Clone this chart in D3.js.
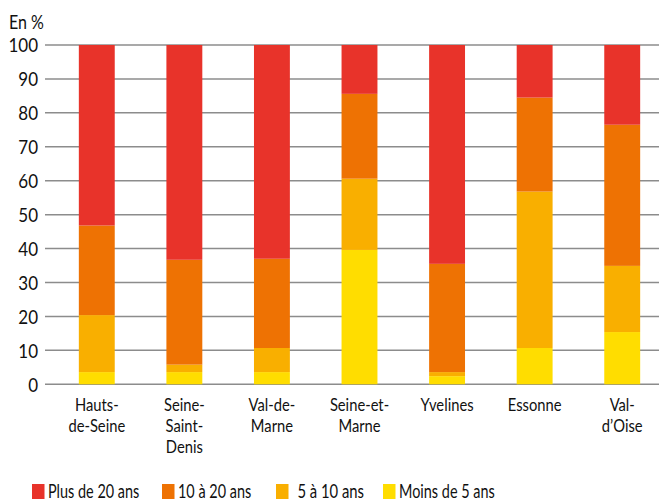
<!DOCTYPE html>
<head>
<meta charset="utf-8">
<style>
  body { margin:0; background:#fff; }
  text { font-family:Lato,"Noto Sans",sans-serif; fill:#111; }
  .grid line { stroke:#8c8c8c; stroke-width:1.5; }
</style>
</head>

<script src="https://d3js.org/d3.v7.min.js"></script>

<div id="my_dataviz"></div>

<script>
// departments (label lines) and shares per age class, in %
var departements = ["Hauts-de-Seine","Seine-Saint-Denis","Val-de-Marne","Seine-et-Marne","Yvelines","Essonne","Val-d'Oise"];
var labelLines = [["Hauts-","de-Seine"],["Seine-","Saint-","Denis"],["Val-de-","Marne"],["Seine-et-","Marne"],["Yvelines"],["Essonne"],["Val-","d\u2019Oise"]];
var moins5   = [3.6, 3.6, 3.6, 39.6, 2.4, 10.7, 15.4];
var de5a10   = [16.8, 2.2, 7.1, 21.0, 1.2, 46.1, 19.5];
var de10a20  = [26.4, 30.9, 26.3, 25.0, 31.9, 27.7, 41.6];
var plus20   = [53.2, 63.3, 63.0, 14.4, 64.5, 15.5, 23.5];
var yTicks = [0,10,20,30,40,50,60,70,80,90,100];

var keys = ["moins5","de5a10","de10a20","plus20"];
var legendLabels = {"plus20":"Plus de 20 ans","de10a20":"10 \u00e0 20 ans","de5a10":"5 \u00e0 10 ans","moins5":"Moins de 5 ans"};
var colors = {"plus20":"#e8332a","de10a20":"#ee7203","de5a10":"#f9af00","moins5":"#ffdd00"};

var W = 659, H = 502;
var svg = d3.select("#my_dataviz").append("svg")
  .attr("width", W).attr("height", H);

// the original font is a condensed one, squeeze Lato horizontally
function place(x, y, k) { return "translate(" + x + "," + y + ") scale(" + (k || 0.78) + ",1)"; }

var rows = departements.map(function(d,i){
  return {dep:d, moins5:moins5[i], de5a10:de5a10[i], de10a20:de10a20[i], plus20:plus20[i]};
});

var x = d3.scaleBand().domain(departements).range([53, 666]).paddingInner(0.59).paddingOuter(0.295);
var y = d3.scaleLinear().domain([0,100]).range([384.3, 45]);

// gridlines
svg.append("g").attr("class","grid")
  .selectAll("line").data(yTicks).enter().append("line")
    .attr("x1", 45).attr("x2", W)
    .attr("y1", function(d){ return y(d); })
    .attr("y2", function(d){ return y(d); });

// y labels
svg.append("g").selectAll("text").data(yTicks).enter().append("text")
  .attr("transform", function(d){ return place(38, y(d), 0.85); })
  .attr("dy", "0.36em").attr("text-anchor","end")
  .style("font-size","20px")
  .text(function(d){ return d; });

svg.append("text").attr("transform", place(9, 29, 0.8)).style("font-size","20px").text("En %");

// stacked bars
var stack = d3.stack().keys(keys)(rows);
svg.append("g").selectAll("g").data(stack).enter().append("g")
    .attr("fill", function(d){ return colors[d.key]; })
  .selectAll("rect").data(function(d){ return d; }).enter().append("rect")
    .attr("x", function(d){ return x(d.data.dep); })
    .attr("width", x.bandwidth())
    .attr("y", function(d){ return y(d[1]); })
    .attr("height", function(d){ return y(d[0]) - y(d[1]); });

// category labels, one text per line
var cat = svg.append("g").selectAll("g").data(departements).enter().append("g")
  .attr("transform", function(d){ return "translate(" + (x(d) + x.bandwidth()/2) + ",411)"; });
cat.selectAll("text").data(function(d,i){ return labelLines[i]; }).enter().append("text")
  .attr("text-anchor","middle")
  .attr("transform", function(d,i){ return place(0, i * 21, 0.82); })
  .style("font-size","18px")
  .text(function(d){ return d; });

// legend
var legKeys = ["plus20","de10a20","de5a10","moins5"];
var legX = [32, 162, 276, 383];
var leg = svg.append("g").selectAll("g").data(legKeys).enter().append("g")
  .attr("transform", function(d,i){ return "translate(" + legX[i] + ",484)"; });
leg.append("rect").attr("width", 12.5).attr("height", 15).attr("fill", function(d){ return colors[d]; });
leg.append("text").attr("transform", function(d){ return place(16, 7.5, d === "de5a10" ? 0.78 : 0.76); })
  .attr("dy","0.36em")
  .attr("dx", function(d){ return d === "de5a10" ? 7 : 0; })
  .style("font-size","19px")
  .text(function(d){ return legendLabels[d]; });
</script>
